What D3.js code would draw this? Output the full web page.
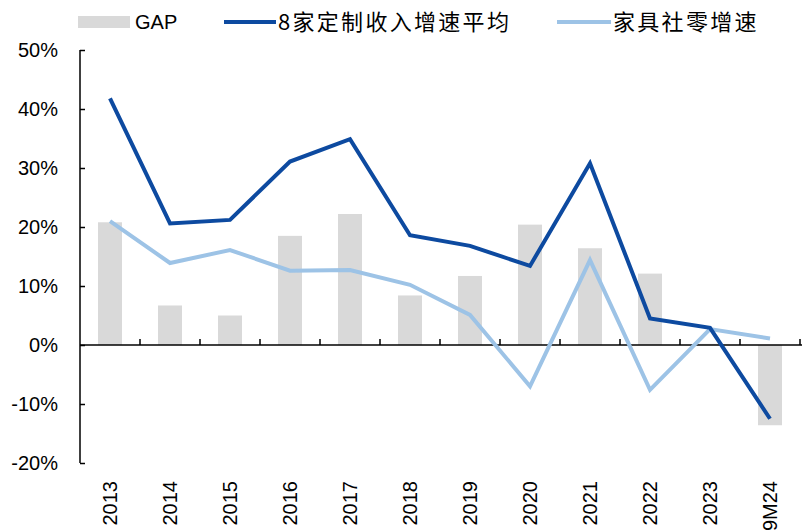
<!DOCTYPE html>
<html lang="zh">
<head>
  <meta charset="utf-8">
  <title>GAP chart</title>
  <script src="https://cdn.jsdelivr.net/npm/d3@7"></script>
  <style>
    body { margin: 0; background: #fff; }
    svg { display: block; font-family: "Liberation Sans", "Noto Sans CJK SC", sans-serif; }
  </style>
</head>
<body>

<svg id="chart" width="802" height="531"></svg>

<script type="text/javascript">

// data
var categories = ['2013', '2014', '2015', '2016', '2017', '2018', '2019', '2020', '2021', '2022', '2023', '9M24'];
var gap = [20.8, 6.7, 5.0, 18.5, 22.2, 8.4, 11.7, 20.4, 16.4, 12.1, 0.2, -13.6];
var customRevenue = [41.8, 20.6, 21.2, 31.1, 34.9, 18.6, 16.8, 13.4, 30.8, 4.5, 2.9, -12.5];
var furnitureRetail = [21.0, 13.9, 16.1, 12.6, 12.7, 10.2, 5.1, -7.0, 14.4, -7.6, 2.7, 1.1];
var yTicks = [-20, -10, 0, 10, 20, 30, 40, 50];

var darkBlue = '#0d4aa0',
    lightBlue = '#9dc3e6',
    barGrey = '#d9d9d9';

var svg = d3.select('#chart');

var x = d3.scaleBand()
  .domain(categories)
  .range([80, 800]);

var y = d3.scaleLinear()
  .domain([-20, 50])
  .range([463, 50]);

// bars
svg.append('g').selectAll('rect')
  .data(gap)
  .enter().append('rect')
  .attr('x', function(d, i) { return x(categories[i]) + x.bandwidth() * 0.3; })
  .attr('width', x.bandwidth() * 0.4)
  .attr('y', function(d) { return y(Math.max(d, 0)); })
  .attr('height', function(d) { return Math.abs(y(d) - y(0)); })
  .attr('fill', barGrey);

// y axis (ticks point inward)
var yAxis = d3.axisLeft(y)
  .tickValues(yTicks)
  .tickSize(-5)
  .tickPadding(22)
  .tickFormat(function(d) { return d + '%'; });

var gy = svg.append('g')
  .attr('transform', 'translate(80,0)')
  .call(yAxis);
gy.select('.domain').attr('stroke', '#000').attr('stroke-width', 1.5).attr('d', 'M0,' + y(50) + 'V' + y(-20));
gy.selectAll('.tick line').attr('stroke', '#000').attr('stroke-width', 1.5);
gy.selectAll('.tick text')
  .attr('font-size', 20)
  .attr('fill', '#000')
  .attr('font-family', '"Liberation Sans", sans-serif');

// zero line with category boundary ticks
var boundaries = categories.slice(1).map(function(c) { return x(c); }).concat([x.range()[1]]);
svg.append('line')
  .attr('x1', 80).attr('x2', 802)
  .attr('y1', y(0)).attr('y2', y(0))
  .attr('stroke', '#000').attr('stroke-width', 1.5);
svg.append('g').selectAll('line')
  .data(boundaries)
  .enter().append('line')
  .attr('x1', function(d) { return d; })
  .attr('x2', function(d) { return d; })
  .attr('y1', y(0))
  .attr('y2', y(0) - 6)
  .attr('stroke', '#000').attr('stroke-width', 1.5);

// category labels, rotated
svg.append('g').selectAll('text')
  .data(categories)
  .enter().append('text')
  .attr('transform', function(d) {
    return 'translate(' + (x(d) + x.bandwidth() / 2 + 7) + ',481) rotate(-90)';
  })
  .attr('text-anchor', 'end')
  .attr('font-size', 20)
  .attr('fill', '#000')
  .text(function(d) { return d; });

// lines
var line = d3.line()
  .x(function(d, i) { return x(categories[i]) + x.bandwidth() / 2; })
  .y(function(d) { return y(d); });

svg.append('path')
  .datum(furnitureRetail)
  .attr('d', line)
  .attr('fill', 'none')
  .attr('stroke', lightBlue)
  .attr('stroke-width', 4);

svg.append('path')
  .datum(customRevenue)
  .attr('d', line)
  .attr('fill', 'none')
  .attr('stroke', darkBlue)
  .attr('stroke-width', 4);

// legend
var legend = svg.append('g');
legend.append('rect')
  .attr('x', 78).attr('y', 16)
  .attr('width', 52).attr('height', 12)
  .attr('fill', barGrey);
legend.append('text')
  .attr('x', 135).attr('y', 29)
  .attr('font-size', 20)
  .text('GAP');

legend.append('line')
  .attr('x1', 224).attr('x2', 276)
  .attr('y1', 22).attr('y2', 22)
  .attr('stroke', darkBlue).attr('stroke-width', 4);
legend.append('text')
  .attr('x', 278).attr('y', 30)
  .attr('font-size', 22)
  .attr('letter-spacing', 2.3)
  .attr('font-family', '"Noto Sans CJK SC", sans-serif')
  .text('8家定制收入增速平均');

legend.append('line')
  .attr('x1', 557).attr('x2', 611)
  .attr('y1', 22).attr('y2', 22)
  .attr('stroke', lightBlue).attr('stroke-width', 4);
legend.append('text')
  .attr('x', 613).attr('y', 30)
  .attr('font-size', 22)
  .attr('letter-spacing', 2.3)
  .attr('font-family', '"Noto Sans CJK SC", sans-serif')
  .text('家具社零增速');

</script>

</body>
</html>
